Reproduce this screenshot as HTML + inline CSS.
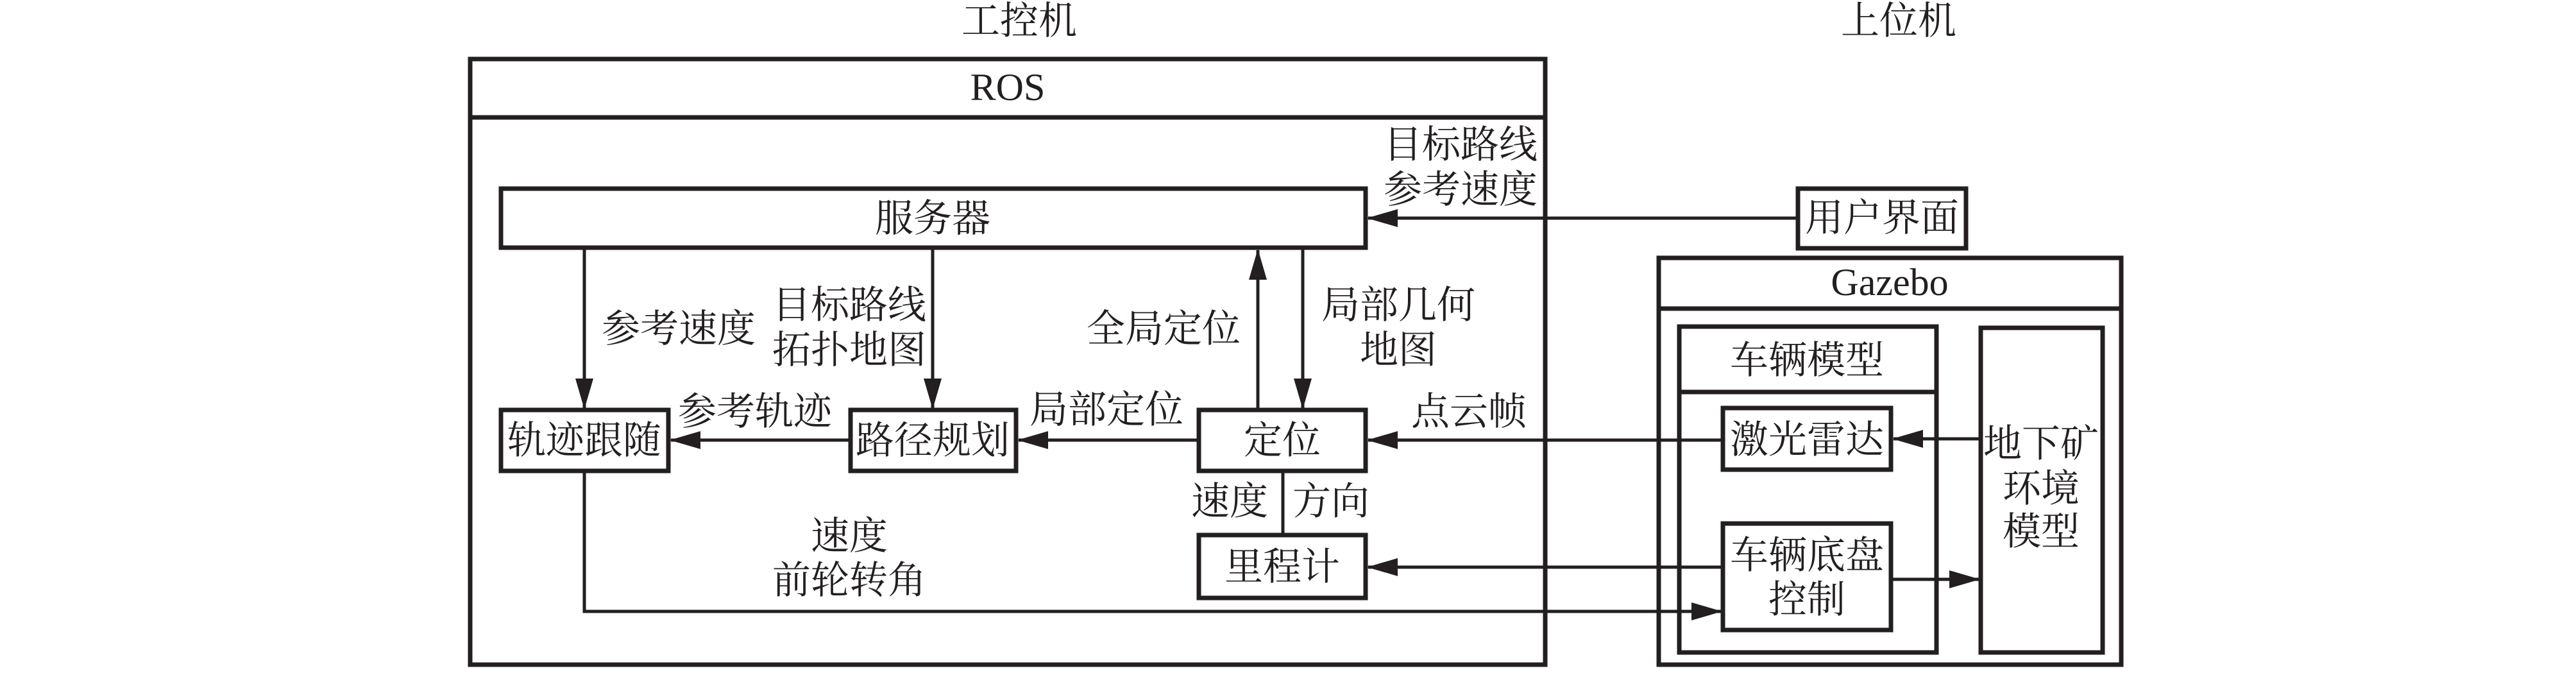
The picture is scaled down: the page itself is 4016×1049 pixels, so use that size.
<!DOCTYPE html>
<html><head><meta charset="utf-8"><style>
html,body{margin:0;padding:0;background:#fff}
svg text{font-family:"Liberation Serif","Noto Serif CJK SC",serif;font-size:60px;fill:#231f20;text-anchor:middle;dominant-baseline:central}
</style></head><body>
<svg width="4016" height="1044" viewBox="0 0 4016 1044" xmlns="http://www.w3.org/2000/svg">
<defs>
<marker id="a" markerWidth="48" markerHeight="28" refX="46" refY="14" orient="auto" markerUnits="userSpaceOnUse">
<path d="M0,0 L48,14 L0,28 Z" fill="#231f20"/></marker>
</defs>
<g fill="none" stroke="#231f20" stroke-width="7">
<rect x="733" y="92" width="1676" height="944"/>
<line x1="733" y1="183" x2="2409" y2="183"/>
<rect x="781" y="294" width="1348" height="92"/>
<rect x="781" y="639" width="261" height="95"/>
<rect x="1326" y="639" width="258" height="95"/>
<rect x="1869" y="639" width="260" height="95"/>
<rect x="1869" y="834" width="260" height="98"/>
<rect x="2803" y="294" width="262" height="93"/>
<rect x="2586" y="402" width="721" height="634"/>
<line x1="2586" y1="481" x2="3307" y2="481"/>
<rect x="2618" y="509" width="401" height="508"/>
<line x1="2618" y1="611" x2="3019" y2="611"/>
<rect x="3088" y="511" width="190" height="506"/>
<rect x="2686" y="636" width="262" height="96"/>
<rect x="2686" y="816" width="262" height="166"/>
</g>
<g fill="none" stroke="#231f20" stroke-width="5">
<line x1="2803" y1="340" x2="2133" y2="340" marker-end="url(#a)"/>
<line x1="911" y1="386" x2="911" y2="636" marker-end="url(#a)"/>
<line x1="1454" y1="386" x2="1454" y2="636" marker-end="url(#a)"/>
<line x1="1961" y1="639" x2="1961" y2="390" marker-end="url(#a)"/>
<line x1="2031" y1="386" x2="2031" y2="636" marker-end="url(#a)"/>
<line x1="1869" y1="686" x2="1588" y2="686" marker-end="url(#a)"/>
<line x1="1326" y1="686" x2="1046" y2="686" marker-end="url(#a)"/>
<line x1="2686" y1="686" x2="2133" y2="686" marker-end="url(#a)"/>
<line x1="3088" y1="684" x2="2952" y2="684" marker-end="url(#a)"/>
<line x1="2948" y1="903" x2="3085" y2="903" marker-end="url(#a)"/>
<line x1="2686" y1="884" x2="2133" y2="884" marker-end="url(#a)"/>
<line x1="2000" y1="734" x2="2000" y2="834"/>
<polyline points="911,734 911,953 2683,953" marker-end="url(#a)"/>
</g>
<text x="1589" y="33">工控机</text>
<text x="2960" y="33">上位机</text>
<text x="1571" y="136">ROS</text>
<text x="1454" y="341">服务器</text>
<text x="2397" y="226" style="text-anchor:end">目标路线</text>
<text x="2397" y="296" style="text-anchor:end">参考速度</text>
<text x="2934" y="340">用户界面</text>
<text x="2946" y="440">Gazebo</text>
<text x="2817" y="562">车辆模型</text>
<text x="3182" y="692">地下矿</text>
<text x="3182" y="762">环境</text>
<text x="3182" y="829">模型</text>
<text x="2817" y="686">激光雷达</text>
<text x="2817" y="866">车辆底盘</text>
<text x="2817" y="935">控制</text>
<text x="1999" y="687">定位</text>
<text x="1999" y="884">里程计</text>
<text x="1454" y="687">路径规划</text>
<text x="911" y="687">轨迹跟随</text>
<text x="2290" y="642">点云帧</text>
<text x="1917" y="782">速度</text>
<text x="2075" y="782">方向</text>
<text x="1814" y="513">全局定位</text>
<text x="2180" y="476">局部几何</text>
<text x="2180" y="546">地图</text>
<text x="1058" y="513">参考速度</text>
<text x="1324" y="476">目标路线</text>
<text x="1324" y="546">拓扑地图</text>
<text x="1725" y="639">局部定位</text>
<text x="1177" y="642">参考轨迹</text>
<text x="1324" y="836">速度</text>
<text x="1324" y="905">前轮转角</text>
</svg>
</body></html>
